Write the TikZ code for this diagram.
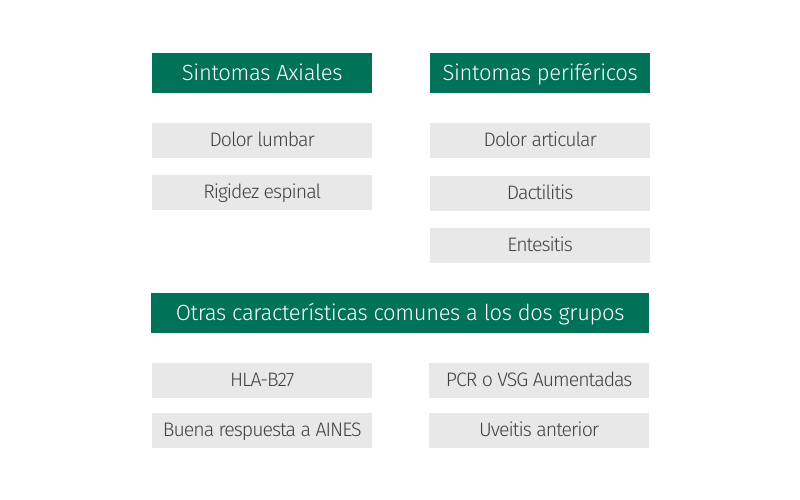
\documentclass[tikz,border=0pt]{standalone}
\usepackage{fontspec}
\setmainfont{Fira Sans}[UprightFont=* Light]
\newfontfamily\hdrfont{Fira Sans}[UprightFont=* Light, LetterSpace=-1.5]
\newfontfamily\itemfont{Fira Sans}[UprightFont=* Light, LetterSpace=-5]
\definecolor{hdrgreen}{RGB}{0,114,88}
\definecolor{boxgray}{RGB}{232,232,232}
\definecolor{txtgray}{RGB}{64,64,64}
\begin{document}
\begin{tikzpicture}[x=1pt,y=-1pt,
  hdr/.style={fill=hdrgreen,text=white,inner sep=0pt,anchor=north west,text height=16pt,text depth=1.5pt,font=\hdrfont\fontsize{22}{26}\selectfont},
  item/.style={fill=boxgray,text=txtgray,inner sep=0pt,anchor=north west,minimum width=220pt,minimum height=34.5pt,text height=14pt,text depth=2.5pt,font=\itemfont\fontsize{19.5}{23}\selectfont}]
\useasboundingbox[fill=white] (0,0) rectangle (800,500);
\node[hdr,minimum width=220pt,minimum height=39.5pt] (ax) at (152,53) {Sintomas Axiales};
\node[hdr,minimum width=220pt,minimum height=39.5pt] (pe) at (430,53) {Sintomas periféricos};
\node[item] (dl) at (152,123) {Dolor lumbar};
\node[item] (re) at (152,175) {Rigidez espinal};
\node[item] (da) at (430,123) {Dolor articular};
\node[item] (dc) at (430,176) {Dactilitis};
\node[item] (en) at (430,228) {Entesitis};
\node[hdr,minimum width=498pt,minimum height=39.5pt] (ot) at (151,293) {Otras características comunes a los dos grupos};
\node[item] (hl) at (152,363) {HLA-B27};
\node[item] (bu) at (152,413) {Buena respuesta a AINES};
\node[item] (pc) at (429,363) {PCR o VSG Aumentadas};
\node[item] (uv) at (429,413) {Uveitis anterior};
\end{tikzpicture}
\end{document}
